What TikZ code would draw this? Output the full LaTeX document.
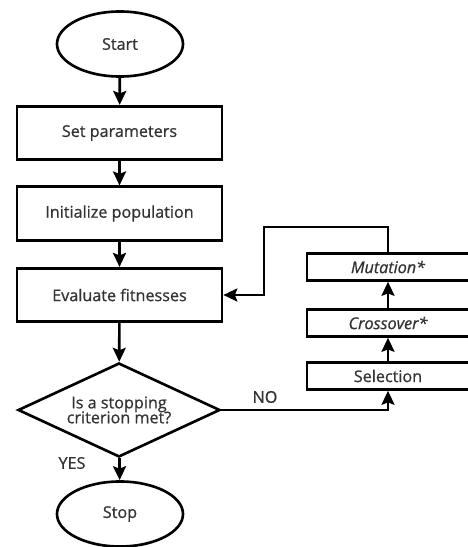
\documentclass[tikz,border=0pt]{standalone}
\usepackage{fontspec}
\setmainfont{Open Sans}
\newfontfamily\chartfont[FakeBold=0.8]{Open Sans}
\usetikzlibrary{shapes.geometric,arrows.meta}
\begin{document}
\begin{tikzpicture}[
  line width=1.5pt,
  every node/.style={font=\chartfont\fontsize{9.2}{10.5}\selectfont, text=black!80},
  terminal/.style={draw, ellipse, minimum width=2.52cm, minimum height=1.3cm, inner sep=0pt},
  process/.style={draw, rectangle, minimum width=4.1cm, minimum height=1.07cm, inner sep=0pt},
  operator/.style={draw, rectangle, minimum width=3.24cm, minimum height=0.54cm, inner sep=0pt},
  decision/.style={draw, diamond, aspect=2.15, minimum width=4.04cm, minimum height=1.88cm, inner sep=0pt, align=center},
  flow/.style={-{Stealth[length=2.8mm,width=2.6mm,inset=0.5mm]}}
]
\useasboundingbox (0,0) rectangle (9.34,-10.94);
\node[terminal] (start) at (2.4,-0.88) {Start};
\node[process] (param) at (2.39,-2.66) {Set parameters};
\node[process] (init) at (2.39,-4.27) {Initialize population};
\node[process] (eval) at (2.39,-5.9) {Evaluate fitnesses};
\node[decision] (crit) at (2.38,-8.2) {Is a stopping\\[-2pt]criterion met?};
\node[terminal] (stop) at (2.4,-10.28) {Stop};
\node[operator] (mut) at (7.76,-5.34) {\itshape Mutation*};
\node[operator] (cross) at (7.76,-6.46) {\itshape Crossover*};
\node[operator] (sel) at (7.76,-7.52) {Selection};
\coordinate (up) at (7.76,-4.54);
\coordinate (back) at (5.28,-4.54);
\draw[flow] (start) -- (param);
\draw[flow] (param) -- (init);
\draw[flow] (init) -- (eval);
\draw[flow] (eval) -- (crit);
\draw[flow] (crit) -- (stop);
\draw[flow] (crit.east) -| (sel.south);
\draw[flow] (sel) -- (cross);
\draw[flow] (cross) -- (mut);
\draw[flow] (mut.north) -- (up) -- (back) |- (eval.east);
\node (yes) at (1.44,-9.26) {YES};
\node (no) at (5.3,-7.94) {NO};
\end{tikzpicture}
\end{document}
